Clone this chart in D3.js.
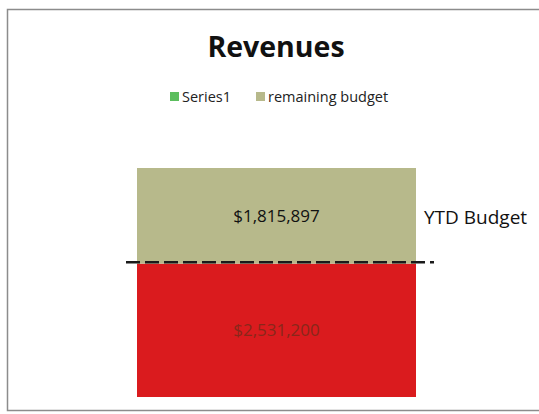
<!DOCTYPE html>
<html lang="en">
<head>
    <meta charset="UTF-8">
    <title>Revenues</title>
    <script src="https://d3js.org/d3.v7.min.js"></script>
    <style>
        body { margin: 0; background: #fff; }
        text { font-family: "Open Sans", "Noto Sans", sans-serif; }
    </style>
</head>
<body>
    <svg id="chart" width="539" height="414"></svg>
<script>
    const categories = ["Revenues"];
    const seriesNames = ["Series1", "remaining budget"];
    const revenue = [2531200];
    const remaining = [1815897];
    const ytdBudget = [2531200];
    const colors = ["#da1b1e", "#b7b98b"];
    const legendColors = ["#5cbe5e", "#b7b98b"];

    const svg = d3.select("#chart");

    // chart border
    svg.append("rect")
        .attr("x", 7.5).attr("y", 9.5)
        .attr("width", 540).attr("height", 401)
        .attr("fill", "#fff")
        .attr("stroke", "#8c8c8c")
        .attr("stroke-width", 1.5);

    svg.append("text")
        .attr("x", 276).attr("y", 57)
        .attr("text-anchor", "middle")
        .attr("font-size", 28.5)
        .attr("font-weight", "bold")
        .attr("fill", "#111")
        .text("Revenues");

    // legend
    const legend = svg.append("g").attr("transform", "translate(170,97)");
    const legendX = [0, 86];
    seriesNames.forEach((name, i) => {
        const g = legend.append("g").attr("transform", "translate(" + legendX[i] + ",0)");
        g.append("rect").attr("x", 0).attr("y", -5).attr("width", 9).attr("height", 9)
            .attr("fill", legendColors[i]);
        g.append("text").attr("x", 12).attr("y", 0).attr("dy", "0.35em")
            .attr("font-size", 14.5).attr("fill", "#222").text(name);
    });

    const x = d3.scaleBand().domain(categories).range([137, 416]).padding(0);
    const y = d3.scaleLinear().domain([0, revenue[0] + remaining[0]]).range([397, 168]);

    const stacked = d3.stack().keys([0, 1]).value((d, k) => k === 0 ? d.rev : d.rem)(
        categories.map((c, i) => ({ cat: c, rev: revenue[i], rem: remaining[i] }))
    );

    stacked.forEach((layer, k) => {
        svg.append("g").selectAll("rect").data(layer).join("rect")
            .attr("x", (d, i) => x(categories[i]))
            .attr("width", x.bandwidth())
            .attr("y", d => y(d[1]))
            .attr("height", d => y(d[0]) - y(d[1]))
            .attr("fill", colors[k]);
    });

    const fmt = d3.format("$,");
    // labels
    svg.selectAll(".lblRem").data(categories).join("text")
        .attr("x", d => x(d) + x.bandwidth() / 2)
        .attr("y", (d, i) => y(revenue[i] + remaining[i] / 2))
        .attr("dy", "0.35em")
        .attr("text-anchor", "middle")
        .attr("font-size", 17)
        .attr("fill", "#111")
        .text((d, i) => fmt(remaining[i]));

    svg.selectAll(".lblRev").data(categories).join("text")
        .attr("x", d => x(d) + x.bandwidth() / 2)
        .attr("y", (d, i) => y(revenue[i] / 2))
        .attr("dy", "0.35em")
        .attr("text-anchor", "middle")
        .attr("font-size", 17)
        .attr("fill", "#7a2a1a")
        .attr("opacity", 0.85)
        .text((d, i) => fmt(revenue[i]));

    // YTD budget line
    svg.selectAll(".ytd").data(ytdBudget).join("line")
        .attr("x1", x(categories[0]) - 11)
        .attr("x2", x(categories[0]) + x.bandwidth() + 18)
        .attr("y1", d => y(d) - 1.5)
        .attr("y2", d => y(d) - 1.5)
        .attr("stroke", "#1a1a1a")
        .attr("stroke-width", 2.5)
        .attr("stroke-dasharray", "14,5");

    svg.append("text")
        .attr("x", 424).attr("y", y(revenue[0] + remaining[0] / 2) + 2)
        .attr("dy", "0.35em")
        .attr("font-size", 19)
        .attr("fill", "#111")
        .text("YTD Budget");
</script>
</body>
</html>
